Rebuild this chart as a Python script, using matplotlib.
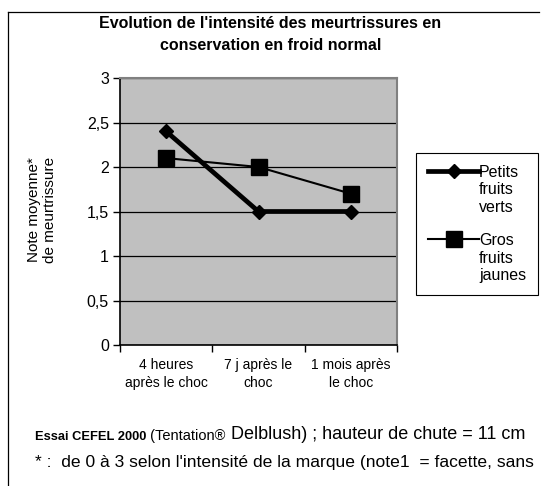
import matplotlib.pyplot as plt
from matplotlib.lines import Line2D

plt.rcParams['font.family'] = ['Liberation Sans', 'DejaVu Sans']

categories = ["4 heures\naprès le choc", "7 j après le\nchoc", "1 mois après\nle choc"]
petits = [2.4, 1.5, 1.5]
gros = [2.1, 2.0, 1.7]
yticks = [0, 0.5, 1, 1.5, 2, 2.5, 3]
ytick_labels = ["0", "0,5", "1", "1,5", "2", "2,5", "3"]

W, H = 544, 486
fig = plt.figure(figsize=(W / 100, H / 100), dpi=100)

# cadre (haut + gauche seulement)
fig.add_artist(Line2D([8 / W, 539 / W], [1 - 12 / H, 1 - 12 / H], color='black', lw=0.9))
fig.add_artist(Line2D([8 / W, 8 / W], [0, 1 - 12 / H], color='black', lw=0.9))

fig.text(0.497, 1 - 24 / H, "Evolution de l'intensité des meurtrissures en", ha='center', va='center',
         fontsize=11.5, fontweight='bold')
fig.text(0.497, 1 - 46 / H, "conservation en froid normal", ha='center', va='center',
         fontsize=11.5, fontweight='bold')

ax = fig.add_axes([120 / W, 1 - 345 / H, 277 / W, 267 / H])
ax.set_facecolor('#C0C0C0')
x = list(range(len(categories)))

ax.plot(x, petits, color='black', lw=3.4, marker='D', markersize=7, label="Petits\nfruits\nverts", zorder=3)
ax.plot(x, gros, color='black', lw=1.5, marker='s', markersize=11, label="Gros\nfruits\njaunes", zorder=3)

ax.set_xlim(-0.5, 2.5)
ax.set_ylim(0, 3)
ax.set_yticks(yticks)
ax.set_yticklabels(ytick_labels, fontsize=11.5)
ax.set_xticks(x)
ax.set_xticklabels(categories, fontsize=10, linespacing=1.45)
ax.set_xticks([-0.5, 0.5, 1.5, 2.5], minor=True)
ax.tick_params(axis='x', which='major', length=0, pad=9)
ax.tick_params(axis='x', which='minor', length=5, direction='out', width=1)
ax.tick_params(axis='y', length=5, direction='out', width=1, pad=3)
ax.grid(axis='y', color='black', lw=0.9)
ax.set_axisbelow(True)
for s in ['top', 'right']:
    ax.spines[s].set_color('#808080')
    ax.spines[s].set_linewidth(1.5)
for s in ['left', 'bottom']:
    ax.spines[s].set_color('black')
    ax.spines[s].set_linewidth(1.2)

fig.text(42 / W, 1 - 210 / H, "Note moyenne*\nde meurtrissure", rotation=90, ha='center', va='center',
         fontsize=11, linespacing=1.25)

leg = ax.legend(loc='upper left', bbox_to_anchor=(416 / W, 1 - 153 / H), bbox_transform=fig.transFigure,
                fontsize=11.5, frameon=True, fancybox=False, edgecolor='black', framealpha=1,
                handlelength=3.2, handletextpad=0.0, labelspacing=1.15, borderpad=0.75,
                borderaxespad=0)
leg.get_frame().set_linewidth(0.8)
# aligner les symboles sur la premiere ligne du texte
for col in leg._legend_handle_box.get_children():
    for row in col.get_children():
        row.align = 'top'

t1 = fig.text(35 / W, 1 - 440 / H, "Essai CEFEL 2000", fontsize=9.3, fontweight='bold', va='baseline')
t2 = ax.annotate(" (Tentation®", xy=(1, 0), xycoords=t1, va='bottom', ha='left', fontsize=10.5,
                 annotation_clip=False)
ax.annotate(" Delblush) ; hauteur de chute = 11 cm", xy=(1, 0), xycoords=t2, va='bottom', ha='left',
            fontsize=13, annotation_clip=False)
fig.text(35 / W, 1 - 462 / H, "* :  de 0 à 3 selon l'intensité de la marque (note1  = facette, sans",
         fontsize=12.6, va='center')

fig.savefig('out.png', dpi=100)
